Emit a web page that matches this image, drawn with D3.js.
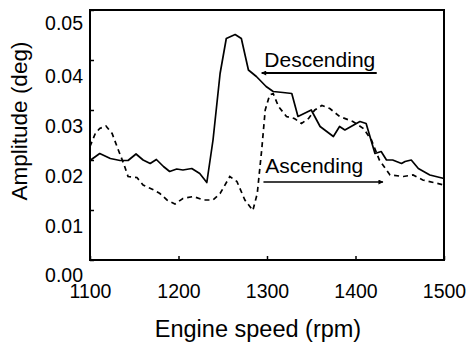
<!DOCTYPE html>
<html>
<head>
<meta charset="utf-8">
<script src="https://cdn.jsdelivr.net/npm/d3@7"></script>
<style>
  body { margin: 0; background: #fff; }
  svg { display: block; font-family: "Liberation Sans", Arial, sans-serif; }
</style>
</head>
<body>
<svg id="chart" width="467" height="342"></svg>
<script>
// engine speed (rpm) and amplitude (deg)
const descRpm = [1100, 1111, 1123, 1134, 1143, 1152, 1160, 1168, 1175, 1183, 1190, 1198, 1205, 1215, 1224, 1232, 1239, 1247, 1254, 1264, 1271, 1279, 1288, 1299, 1307, 1318, 1328, 1335, 1350, 1360, 1375, 1382, 1388, 1395, 1405, 1412, 1422, 1429, 1435, 1442, 1452, 1456, 1463, 1471, 1484, 1500];
const descAmp = [0.0199, 0.0213, 0.0203, 0.0199, 0.0199, 0.0212, 0.0200, 0.0193, 0.0201, 0.0187, 0.0177, 0.0182, 0.0180, 0.0183, 0.0173, 0.0155, 0.0240, 0.0373, 0.0443, 0.0451, 0.0443, 0.0380, 0.0367, 0.0347, 0.0337, 0.0335, 0.0333, 0.0287, 0.0300, 0.0267, 0.0247, 0.0267, 0.0260, 0.0267, 0.0277, 0.0273, 0.0213, 0.0217, 0.0200, 0.0200, 0.0193, 0.0197, 0.0200, 0.0183, 0.0170, 0.0163];

const ascRpm = [1100, 1106, 1111, 1118, 1125, 1132, 1138, 1143, 1153, 1160, 1172, 1179, 1187, 1196, 1205, 1217, 1228, 1239, 1247, 1258, 1266, 1275, 1284, 1289, 1294, 1298, 1303, 1307, 1313, 1322, 1331, 1339, 1347, 1354, 1362, 1371, 1382, 1397, 1409, 1418, 1427, 1439, 1454, 1465, 1476, 1500];
const ascAmp = [0.0227, 0.0253, 0.0263, 0.0268, 0.0253, 0.0220, 0.0193, 0.0167, 0.0165, 0.0150, 0.0140, 0.0133, 0.0120, 0.0112, 0.0123, 0.0127, 0.0120, 0.0120, 0.0133, 0.0167, 0.0157, 0.0120, 0.0099, 0.0133, 0.0220, 0.0300, 0.0330, 0.0333, 0.0307, 0.0287, 0.0283, 0.0273, 0.0283, 0.0300, 0.0309, 0.0303, 0.0287, 0.0277, 0.0263, 0.0240, 0.0200, 0.0170, 0.0167, 0.0170, 0.0160, 0.0150];

const xTicks = [1100, 1200, 1300, 1400, 1500];
const yTicks = [0, 0.01, 0.02, 0.03, 0.04, 0.05];

// labels with their arrows (rpm / amplitude coordinates)
const notes = [
  { label: 'Descending', from: 1424, to: 1294, at: 0.0374, textX: 1297, textY: 0.0386 },
  { label: 'Ascending', from: 1296, to: 1431, at: 0.0156, textX: 1298, textY: 0.0174 },
];

const margin = { top: 10, right: 23, bottom: 82, left: 90 };
const width = 467;
const height = 342;

const svg = d3.select('#chart');

const x = d3.scaleLinear()
  .domain([1100, 1500])
  .range([margin.left, width - margin.right]);
const y = d3.scaleLinear()
  .domain([0, 0.05])
  .range([height - margin.bottom, margin.top]);

svg.append('defs').append('marker')
  .attr('id', 'head')
  .attr('viewBox', '0 0 10 10')
  .attr('refX', 9)
  .attr('refY', 5)
  .attr('markerWidth', 6)
  .attr('markerHeight', 5)
  .attr('markerUnits', 'userSpaceOnUse')
  .attr('orient', 'auto')
  .append('path')
  .attr('d', 'M0,0L10,5L0,10z')
  .attr('fill', '#000');

// axes, ticks point inward
const xAxis = (g) => {
  g.attr('transform', `translate(0,${height - margin.bottom})`)
    .call(d3.axisBottom(x).tickValues(xTicks).tickFormat(d3.format('d'))
      .tickSizeInner(-4).tickSizeOuter(0).tickPadding(24))
    .call((g) => g.select('.domain').remove())
    .call((g) => g.selectAll('text').attr('font-size', 19.5).attr('fill', '#000'));
};

const yAxis = (g) => {
  g.attr('transform', `translate(${margin.left},0)`)
    .call(d3.axisLeft(y).tickValues(yTicks).tickFormat(d3.format('.2f'))
      .tickSizeInner(-4).tickSizeOuter(0).tickPadding(7))
    .call((g) => g.select('.domain').remove())
    .call((g) => g.selectAll('text')
      .attr('font-size', 19.5)
      .attr('fill', '#000')
      .attr('transform', (d) => `translate(0,${d === 0.05 ? 13 : d === 0 ? 15 : 16})`));
};

svg.append('g').call(xAxis);
svg.append('g').call(yAxis);

svg.selectAll('.tick line').attr('stroke', '#000').attr('stroke-width', 1.5);

svg.append('rect')
  .attr('x', margin.left)
  .attr('y', margin.top)
  .attr('width', width - margin.left - margin.right)
  .attr('height', height - margin.top - margin.bottom)
  .attr('fill', 'none')
  .attr('stroke', '#000')
  .attr('stroke-width', 2);

const line = d3.line()
  .x((d) => x(d[0]))
  .y((d) => y(d[1]));

svg.append('path')
  .datum(d3.zip(descRpm, descAmp))
  .attr('d', line)
  .attr('fill', 'none')
  .attr('stroke', '#000')
  .attr('stroke-width', 1.7)
  .attr('stroke-linejoin', 'round');

svg.append('path')
  .datum(d3.zip(ascRpm, ascAmp))
  .attr('d', line)
  .attr('fill', 'none')
  .attr('stroke', '#000')
  .attr('stroke-width', 1.7)
  .attr('stroke-dasharray', '5,4');

const note = svg.append('g').selectAll('g')
  .data(notes)
  .join('g');

note.append('line')
  .attr('x1', (d) => x(d.from))
  .attr('x2', (d) => x(d.to))
  .attr('y1', (d) => y(d.at))
  .attr('y2', (d) => y(d.at))
  .attr('stroke', '#000')
  .attr('stroke-width', (d) => (d.label === 'Descending' ? 2 : 1.3))
  .attr('marker-end', 'url(#head)');

note.append('text')
  .attr('x', (d) => x(d.textX))
  .attr('y', (d) => y(d.textY))
  .attr('font-size', 21)
  .text((d) => d.label);

svg.append('text')
  .attr('x', 258)
  .attr('y', 337)
  .attr('text-anchor', 'middle')
  .attr('font-size', 23.5)
  .text('Engine speed (rpm)');

svg.append('text')
  .attr('transform', 'translate(27,121) rotate(-90)')
  .attr('text-anchor', 'middle')
  .attr('font-size', 22.5)
  .text('Amplitude (deg)');
</script>
</body>
</html>
